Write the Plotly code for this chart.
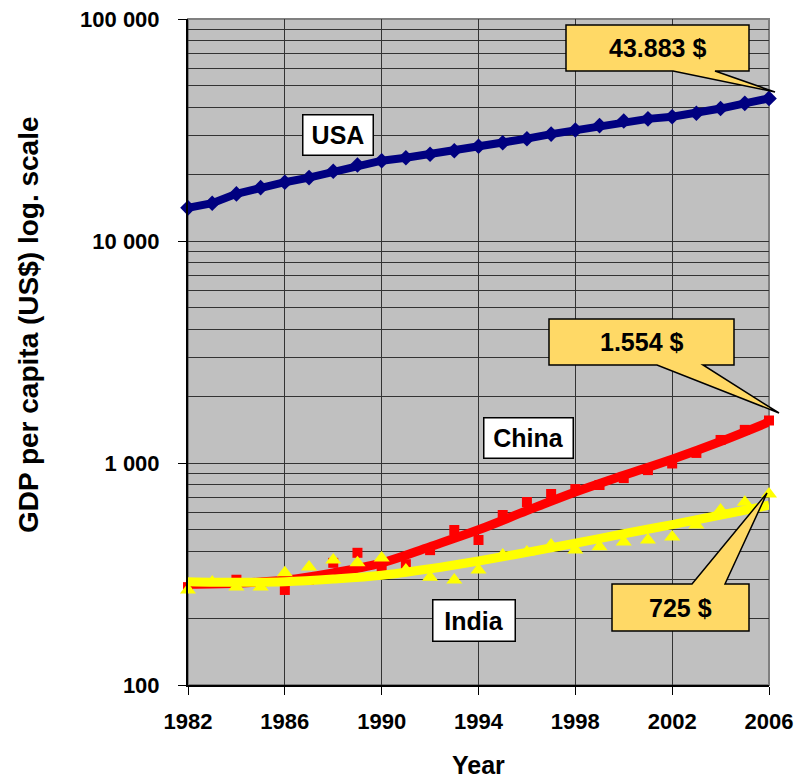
import plotly.graph_objects as go

years = list(range(1982, 2007))
usa = [14100, 14800, 16300, 17400, 18400, 19300, 20600, 22000, 23000, 23700,
       24600, 25500, 26700, 27700, 28900, 30300, 31600, 33100, 34700, 35500,
       36300, 37600, 39500, 41700, 43883]
china = [276, 288, 298, 288, 268, 298, 355, 394, 340, 350,
         405, 499, 450, 583, 667, 725, 763, 796, 855, 929,
         995, 1110, 1270, 1410, 1554]
india = [268, 291, 276, 276, 320, 340, 366, 355, 373, 330,
         306, 297, 330, 385, 397, 427, 406, 419, 441, 450,
         464, 526, 614, 665, 725]

# trend lines (every second year)
trend_years = list(range(1982, 2007, 2))
china_trend = [284, 287, 297, 320, 355, 420, 500, 610, 740, 880, 1040, 1250, 1530]
india_trend = [292, 290, 292, 300, 312, 334, 362, 396, 435, 480, 528, 583, 645]

labels = ["USA", "China", "India"]
callouts = ["43.883 $", "1.554 $", "725 $"]
ytick_vals = [100, 1000, 10000, 100000]
ytick_text = ["100", "1 000", "10 000", "100 000"]

FONT = "Arial, Liberation Sans, sans-serif"

fig = go.Figure()
fig.add_trace(go.Scatter(x=years, y=usa, mode="lines+markers",
                         line=dict(color="#000080", width=8),
                         marker=dict(symbol="diamond", size=12, color="#000080"),
                         cliponaxis=False, showlegend=False))
fig.add_trace(go.Scatter(x=years, y=china, mode="markers",
                         marker=dict(symbol="square", size=10, color="#FF0000"),
                         cliponaxis=False, showlegend=False))
fig.add_trace(go.Scatter(x=trend_years, y=china_trend, mode="lines",
                         line=dict(color="#FF0000", width=9, shape="spline"),
                         showlegend=False))
fig.add_trace(go.Scatter(x=years, y=india, mode="markers",
                         marker=dict(symbol="triangle-up", size=14, color="#FFFF00"),
                         cliponaxis=False, showlegend=False))
fig.add_trace(go.Scatter(x=trend_years, y=india_trend, mode="lines",
                         line=dict(color="#FFFF00", width=9, shape="spline"),
                         showlegend=False))

# layout geometry (pixels of plot area)
L, R, T, B = 188, 769, 19, 685
W, H = R - L, B - T
def px(x):
    return (x - L) / W
def py(y):
    return (B - y) / H

minor_vals = [m * 10 ** k for k in range(2, 5) for m in range(2, 10)]

shapes = []
shapes.append(dict(type="rect", xref="paper", yref="paper", x0=0, x1=1, y0=0, y1=1,
                   line=dict(color="#808080", width=2), layer="below"))

def poly(points):
    return "M " + " L ".join(f"{px(x):.5f},{py(y):.5f}" for x, y in points) + " Z"

callout_polys = [
    [(566, 25), (749, 25), (749, 71), (715, 71), (775, 92), (673, 71), (566, 71)],
    [(549, 319), (734, 319), (734, 365), (703, 365), (779, 413), (657, 365), (549, 365)],
    [(612, 584), (692, 584), (767, 493), (725, 584), (749, 584), (749, 631), (612, 631)],
]
for pts in callout_polys:
    shapes.append(dict(type="path", xref="paper", yref="paper", path=poly(pts),
                       fillcolor="#FFD966", line=dict(color="black", width=1.5),
                       layer="above"))

annotations = []
callout_centers = [(657.5, 48), (641.5, 342), (680.5, 607.5)]
for txt, (cx, cy) in zip(callouts, callout_centers):
    annotations.append(dict(xref="paper", yref="paper", x=px(cx), y=py(cy),
                            text=txt, showarrow=False, xanchor="center", yanchor="middle",
                            font=dict(family=FONT, size=25, color="black", weight="bold")))

label_boxes = [(337.5, 134.5, 69, 39), (528, 437.5, 88, 39), (473.5, 620, 81, 40)]
for txt, (cx, cy, w, h) in zip(labels, label_boxes):
    annotations.append(dict(xref="paper", yref="paper", x=px(cx), y=py(cy),
                            text=txt, showarrow=False, xanchor="center", yanchor="middle",
                            width=w, height=h, bgcolor="white", bordercolor="black",
                            borderwidth=1.5, borderpad=0,
                            font=dict(family=FONT, size=25, color="black", weight="bold")))

annotations.append(dict(xref="paper", yref="paper", x=px(28), y=py(325),
                        text="GDP per capita (US$) log. scale", textangle=-90,
                        showarrow=False, xanchor="center", yanchor="middle",
                        font=dict(family=FONT, size=28, color="black", weight="bold")))
annotations.append(dict(xref="paper", yref="paper", x=px(478), y=py(765),
                        text="Year", showarrow=False, xanchor="center", yanchor="middle",
                        font=dict(family=FONT, size=25, color="black", weight="bold")))

fig.update_layout(
    width=794, height=781,
    margin=dict(l=L, r=794 - R, t=T, b=781 - B, pad=0, autoexpand=False),
    paper_bgcolor="white", plot_bgcolor="#C0C0C0",
    shapes=shapes, annotations=annotations, showlegend=False,
)
fig.update_xaxes(range=[1982, 2006], tickmode="linear", tick0=1982, dtick=4,
                 automargin=False,
                 showgrid=True, gridcolor="#333333", gridwidth=1,
                 showline=True, linecolor="black", linewidth=2,
                 ticks="outside", ticklen=8, tickcolor="black", ticklabelstandoff=8,
                 tickfont=dict(family=FONT, size=22, color="black", weight="bold"),
                 zeroline=False)
fig.update_yaxes(type="log", range=[2, 5], tickvals=ytick_vals, ticktext=ytick_text,
                 automargin=False,
                 showgrid=True, gridcolor="#333333", gridwidth=1,
                 minor=dict(tickvals=minor_vals, showgrid=True, gridcolor="#333333",
                            gridwidth=1, ticklen=0),
                 showline=True, linecolor="black", linewidth=2,
                 ticks="outside", ticklen=8, tickcolor="black", ticklabelstandoff=14,
                 tickfont=dict(family=FONT, size=22, color="black", weight="bold"),
                 zeroline=False)

fig.write_html("out.html")
